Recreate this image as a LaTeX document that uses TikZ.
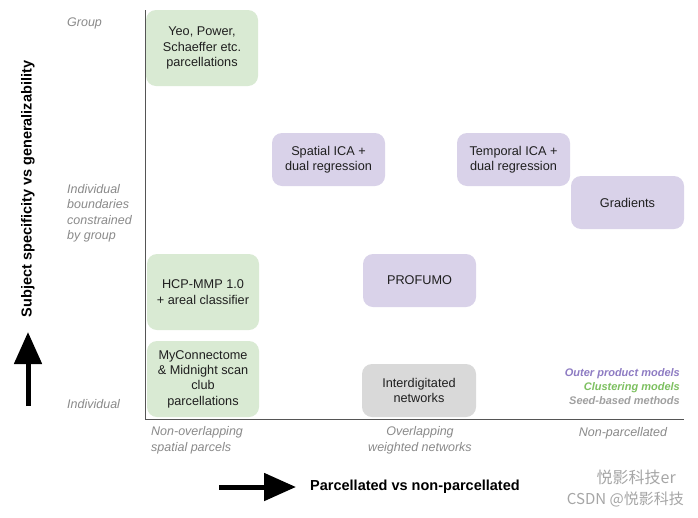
\documentclass[tikz,border=0pt]{standalone}
\usepackage{fontspec}
\setmainfont{Liberation Sans}
\newfontfamily\cjkfont{Noto Sans CJK SC}
\usetikzlibrary{arrows.meta}
\definecolor{boxgreen}{HTML}{D9EAD3}
\definecolor{boxpurple}{HTML}{D9D2E9}
\definecolor{boxgray}{HTML}{D9D9D9}
\definecolor{labgray}{HTML}{8A8A8A}
\definecolor{legpurple}{HTML}{8E7CC3}
\definecolor{leggreen}{HTML}{7DC060}
\definecolor{leggray}{HTML}{A0A0A0}
\definecolor{axisgray}{HTML}{555555}
\tikzset{
  box/.style={rectangle, rounded corners=10pt, draw=none, align=center, text=black!88,
    font=\fontsize{12.7}{15.3}\selectfont, inner sep=0pt},
  bigbox/.style={box, minimum width=112pt, minimum height=76pt},
  smallbox/.style={box, minimum width=113pt, minimum height=53pt},
  ylab/.style={font=\fontsize{12.5}{15.5}\selectfont\itshape, text=labgray, align=left, anchor=west, inner sep=0pt},
  xlab/.style={font=\fontsize{12.5}{15.5}\selectfont\itshape, text=labgray, inner sep=0pt},
  legend/.style={font=\fontsize{11}{13.5}\selectfont\bfseries\itshape, anchor=east, inner sep=0pt},
  title/.style={font=\fontsize{14.5}{17}\selectfont\bfseries, inner sep=0pt},
  bigarrow/.style={line width=5pt, -{Triangle[width=27pt,length=32pt]}},
  axis/.style={draw=axisgray, line width=1pt}
}
\begin{document}
\begin{tikzpicture}[x=1pt,y=-1pt]
\useasboundingbox (0,0) rectangle (698,517);
\fill[white] (0,0) rectangle (698,517);
% boxes
\node[bigbox, fill=boxgreen] (yeo) at (202,48) {Yeo, Power,\\Schaeffer etc.\\parcellations};
\node[bigbox, fill=boxgreen] (hcp) at (203,292) {HCP-MMP 1.0\\+ areal classifier};
\node[bigbox, fill=boxgreen] (myc) at (203,379) {MyConnectome\\\& Midnight scan\\club\\parcellations};
\node[smallbox, fill=boxpurple] (sica) at (328.5,159.5) {Spatial ICA +\\dual regression};
\node[smallbox, fill=boxpurple] (tica) at (513.5,159.5) {Temporal ICA +\\dual regression};
\node[smallbox, fill=boxpurple] (grad) at (627.5,202.5) {Gradients};
\node[smallbox, fill=boxpurple] (prof) at (419.5,280.5) {PROFUMO};
\node[smallbox, fill=boxgray, minimum width=114pt] (inter) at (419,390.5) {Interdigitated\\networks};
% axes
\coordinate (otop) at (145,10);
\coordinate (orig) at (145,419);
\coordinate (xend) at (684,419);
\draw[axis] (otop) -- (orig) -- (xend);
% y labels
\node[ylab] (lgroup) at (67,23) {Group};
\node[ylab] (lind2) at (67,213.5) {Individual\\boundaries\\constrained\\by group};
\node[ylab] (lind) at (67,404) {Individual};
% x labels
\node[xlab, align=left, anchor=west] (lnon) at (151,440.5) {Non-overlapping\\spatial parcels};
\node[xlab, align=center] (lover) at (420,440.5) {Overlapping\\weighted networks};
\node[xlab] (lnp) at (623,433) {Non-parcellated};
% legend
\node[legend, text=legpurple] (leg1) at (680,373.5) {Outer product models};
\node[legend, text=leggreen] (leg2) at (680,387.5) {Clustering models};
\node[legend, text=leggray] (leg3) at (680,401) {Seed-based methods};
% titles and arrows
\node[title, rotate=90] (ytitle) at (28,189) {Subject specificity vs generalizability};
\coordinate (ya) at (28,406);
\coordinate (yb) at (28,332);
\draw[bigarrow] (ya) -- (yb);
\node[title, anchor=west] (xtitle) at (310,487) {Parcellated vs non-parcellated};
\coordinate (xa) at (219,487);
\coordinate (xb) at (296,487);
\draw[bigarrow] (xa) -- (xb);
% watermark
\node[font=\fontsize{16}{18}\selectfont\cjkfont, text=black!35, anchor=east, inner sep=0pt] (wm1) at (676,477) {悦影科技er};
\node[font=\fontsize{15}{18}\selectfont\cjkfont, text=black!35, anchor=east, inner sep=0pt] (wm2) at (684,499) {CSDN @悦影科技};
\end{tikzpicture}
\end{document}
